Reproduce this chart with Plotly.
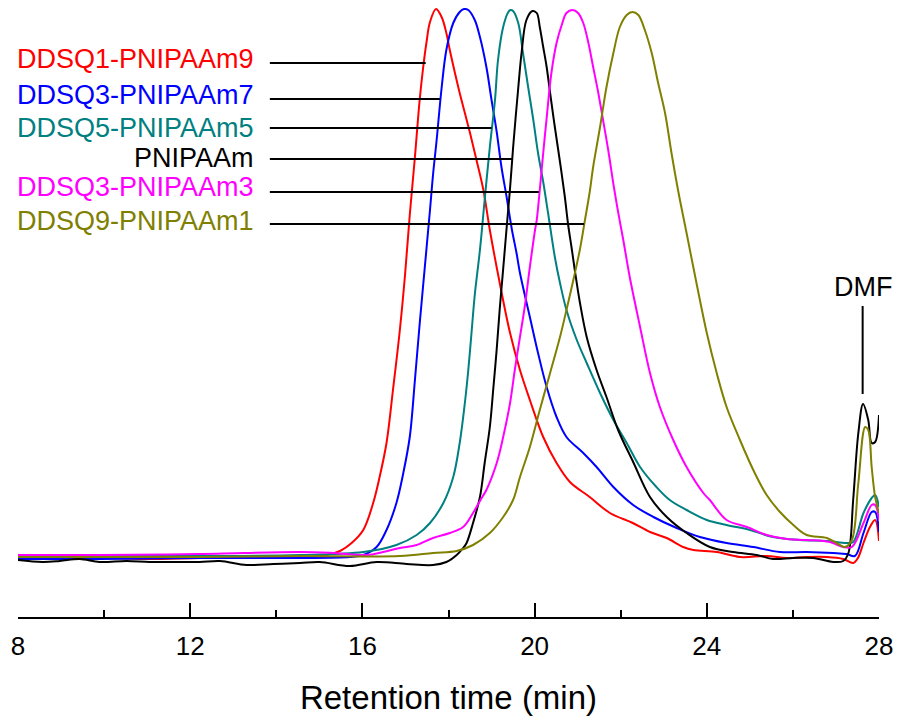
import plotly.graph_objects as go

# Retention time (min) and detector response (a.u.) for each GPC trace
t_q1_9 = [8.00, 8.97, 9.90, 11.06, 12.22, 13.38, 14.55, 15.17, 15.48, 15.75, 16.02, 16.25, 16.40, 16.56, 16.71,
          16.87, 16.99, 17.10, 17.22, 17.33, 17.41, 17.49, 17.57, 17.71, 17.84, 17.95, 18.03, 18.15, 18.26,
          18.38, 18.50, 18.65, 18.81, 18.96, 19.19, 19.43, 19.66, 19.89, 20.20, 20.51, 20.82, 21.28, 21.75, 22.28,
          22.68, 23.07, 23.45, 23.69, 24.23, 24.77, 25.39, 25.86, 26.32, 26.79, 27.17, 27.40, 27.51, 27.64, 27.79,
          27.91, 28.00]
y_q1_9 = [59, 58, 59, 58, 59, 59, 60, 62, 66, 74, 87, 114, 140, 174, 227,
          287, 342, 402, 460, 517, 549, 575, 595, 608, 600, 584, 567, 544, 524,
          504, 484, 457, 427, 387, 334, 284, 247, 217, 180, 154, 135, 120, 104, 94,
          85, 79, 70, 67, 65, 60, 61, 59, 60, 60, 58, 54, 59, 74, 90,
          97, 76]

t_q3_7 = [8.00, 9.90, 12.22, 14.55, 15.71, 16.02, 16.33, 16.56, 16.79, 16.95, 17.10, 17.22, 17.33, 17.45,
          17.57, 17.64, 17.72, 17.84, 17.95, 18.11, 18.26, 18.36, 18.46, 18.61, 18.73, 18.88, 19.00, 19.12, 19.23,
          19.35, 19.47, 19.58, 19.66, 19.89, 20.08, 20.28, 20.51, 20.74, 21.13, 21.44, 21.83, 22.29, 22.76, 23.30,
          23.84, 24.46, 25.08, 25.70, 26.32, 26.94, 27.25, 27.44, 27.64, 27.83, 27.91, 28.00]
y_q3_7 = [58, 58, 59, 59, 60, 62, 70, 87, 114, 144, 180, 237, 293, 350,
          407, 442, 475, 529, 567, 594, 605, 608, 607, 597, 580, 550, 517, 485, 450,
          420, 388, 364, 344, 300, 264, 230, 200, 180, 164, 150, 130, 112, 100, 89,
          80, 74, 70, 65, 65, 64, 63, 61, 84, 105, 105, 85]

t_q5_5 = [8.00, 9.90, 12.22, 14.55, 16.02, 16.79, 17.26, 17.57, 17.88, 18.11, 18.26, 18.38, 18.46, 18.54, 18.61,
          18.73, 18.84, 18.96, 19.08, 19.15, 19.27, 19.39, 19.44, 19.50, 19.62, 19.73, 19.85, 19.97, 20.08, 20.20,
          20.32, 20.47, 20.59, 20.74, 20.98, 21.21, 21.52, 21.83, 22.14, 22.45, 22.83, 23.14, 23.53, 24.00, 24.46,
          25.00, 25.54, 26.16, 26.79, 27.25, 27.40, 27.64, 27.83, 27.91, 28.00]
y_q5_5 = [60, 61, 61, 62, 65, 72, 82, 94, 114, 140, 174, 214, 247, 287, 322,
          367, 417, 470, 517, 557, 590, 605, 607, 606, 594, 564, 530, 497, 464, 435,
          402, 360, 334, 307, 277, 254, 224, 197, 174, 150, 130, 117, 107, 97, 92,
          87, 80, 77, 76, 74, 75, 104, 119, 122, 110]

t_pnipaam = [8.00, 8.57, 8.97, 9.43, 9.90, 10.52, 11.06, 11.68, 12.22, 12.69, 13.31, 13.93, 14.55, 15.01, 15.71,
             16.33, 17.03, 17.64, 17.95, 18.19, 18.34, 18.42, 18.57, 18.73, 18.84, 18.96, 19.04, 19.12, 19.19, 19.27,
             19.35, 19.43, 19.50, 19.62, 19.70, 19.81, 19.95, 20.05, 20.12, 20.20, 20.28, 20.36, 20.47, 20.59,
             20.70, 20.78, 20.86, 20.94, 21.05, 21.21, 21.44, 21.67, 21.94, 22.29, 22.68, 23.07, 23.53, 24.07, 24.61,
             25.16, 25.54, 26.01, 26.47, 26.94, 27.17, 27.29, 27.40, 27.52, 27.63, 27.75, 27.83, 27.91, 28.00]
y_pnipaam = [57, 55, 56, 58, 55, 56, 55, 55, 55, 56, 52, 53, 54, 55, 51,
             55, 53, 52, 55, 62, 69, 74, 94, 120, 154, 190, 228, 268, 308, 348,
             389, 429, 469, 529, 565, 597, 606, 604, 590, 570, 550, 524, 490, 455,
             421, 392, 369, 345, 315, 280, 247, 220, 187, 155, 120, 100, 84, 70, 65,
             62, 58, 59, 59, 55, 56, 64, 117, 184, 213, 197, 174, 175, 202]

t_q3_3 = [8.00, 9.90, 12.22, 14.55, 15.32, 16.10, 16.48, 16.87, 17.26, 17.64, 18.03, 18.34, 18.57, 18.77, 18.88,
          19.12, 19.27, 19.43, 19.54, 19.66, 19.77, 19.89, 20.01, 20.05, 20.12, 20.20, 20.28, 20.39, 20.51, 20.63,
          20.74, 20.88, 21.01, 21.13, 21.25, 21.36, 21.48, 21.59, 21.71, 21.83, 21.94, 22.06, 22.21, 22.45, 22.68,
          22.91, 23.22, 23.53, 23.92, 24.07, 24.46, 24.93, 25.39, 25.86, 26.32, 26.86, 27.17, 27.37, 27.64, 27.83,
          27.91, 28.00]
y_q3_3 = [62, 62, 63, 65, 64, 62, 65, 69, 72, 79, 84, 90, 104, 119, 127,
          154, 180, 214, 247, 280, 310, 350, 387, 397, 427, 464, 499, 544, 574, 592,
          604, 607, 604, 594, 574, 550, 524, 497, 467, 433, 405, 377, 340, 290, 244,
          210, 177, 150, 124, 117, 97, 90, 82, 78, 77, 75, 70, 70, 94, 112,
          112, 97]

t_q9_1 = [8.00, 9.90, 12.22, 14.55, 16.87, 17.64, 18.19, 18.57, 18.96, 19.27, 19.50, 19.66, 19.89, 20.12, 20.36,
          20.59, 20.74, 20.90, 21.05, 21.17, 21.28, 21.36, 21.52, 21.67, 21.83, 21.98, 22.14, 22.27, 22.41, 22.56,
          22.72, 22.87, 23.03, 23.18, 23.34, 23.53, 23.76, 24.00, 24.23, 24.46, 24.77, 25.08, 25.39, 25.70, 26.01,
          26.32, 26.79, 27.09, 27.21, 27.37, 27.52, 27.68, 27.75, 27.83, 27.91, 28.00]
y_q9_1 = [60, 60, 60, 61, 61, 64, 66, 72, 84, 100, 117, 140, 170, 207, 244,
          280, 307, 337, 367, 397, 425, 450, 490, 530, 564, 590, 602, 605, 602, 587,
          564, 534, 504, 464, 425, 384, 334, 284, 244, 210, 177, 147, 122, 105, 92,
          82, 79, 72, 70, 77, 134, 190, 187, 150, 120, 104]

names = ["DDSQ1-PNIPAAm9", "DDSQ3-PNIPAAm7", "DDSQ5-PNIPAAm5", "PNIPAAm", "DDSQ3-PNIPAAm3", "DDSQ9-PNIPAAm1"]
colors = ["#FF0000", "#0000FF", "#008080", "#000000", "#FF00FF", "#808000"]
traces_t = [t_q1_9, t_q3_7, t_q5_5, t_pnipaam, t_q3_3, t_q9_1]
traces_y = [y_q1_9, y_q3_7, y_q5_5, y_pnipaam, y_q3_3, y_q9_1]

# label positions (response level) and the retention time where each leader meets its trace
label_y = [558, 522, 489, 459, 430, 396]
leader_y = [554, 518, 489, 458, 425, 393]
leader_end = [17.47, 17.80, 19.00, 19.48, 20.10, 21.15]

FONT = "Arial, Liberation Sans, sans-serif"

fig = go.Figure()
for t, y, name, c in zip(traces_t, traces_y, names, colors):
    fig.add_trace(go.Scatter(x=t, y=y, mode="lines", name=name,
                             line=dict(color=c, width=2, shape="spline", smoothing=1.0),
                             showlegend=False))

for name, c, ly, ry, xe in zip(names, colors, label_y, leader_y, leader_end):
    fig.add_annotation(x=13.52, y=ly, xref="x", yref="y", text=name, showarrow=False,
                       xanchor="right", yanchor="middle", font=dict(family=FONT, size=27, color=c))
    fig.add_shape(type="line", xref="x", yref="y", x0=13.85, x1=xe, y0=ry, y1=ry,
                  line=dict(color="black", width=2))

# solvent peak marker
fig.add_annotation(x=27.63, y=330, xref="x", yref="y", text="DMF", showarrow=False,
                   xanchor="center", yanchor="middle", font=dict(family=FONT, size=27, color="black"))
fig.add_shape(type="line", xref="x", yref="y", x0=27.62, x1=27.62, y0=311, y1=223,
              line=dict(color="black", width=2))

fig.update_xaxes(range=[8, 28], showline=True, linecolor="black", linewidth=2,
                 ticks="inside", ticklen=14, tickwidth=2, tickcolor="black",
                 tickvals=[8, 12, 16, 20, 24, 28], showgrid=False, zeroline=False,
                 minor=dict(ticks="inside", ticklen=7, tickwidth=2, tickcolor="black", dtick=2, showgrid=False),
                 tickfont=dict(family=FONT, size=26, color="black"), ticklabelstandoff=5,
                 title=dict(text="Retention time (min)", font=dict(family=FONT, size=33, color="black"), standoff=26))
fig.update_yaxes(range=[0, 617], visible=False, showgrid=False, zeroline=False)

fig.update_layout(width=899, height=721, margin=dict(l=18, r=20, t=0, b=104),
                  plot_bgcolor="white", paper_bgcolor="white")

fig.write_html("out.html")
